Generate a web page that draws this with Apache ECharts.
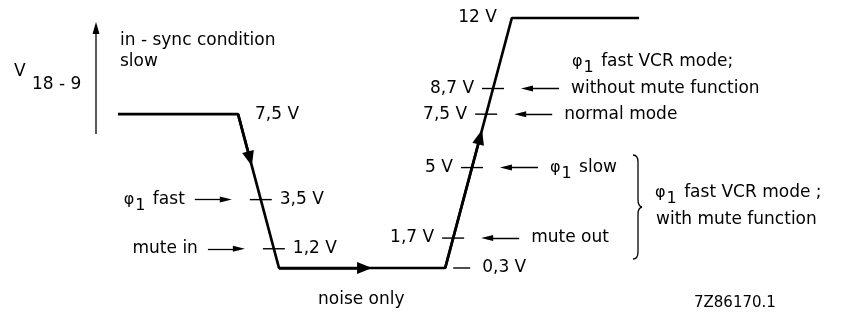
<!DOCTYPE html>
<html>
<head>
<meta charset="utf-8">
<script src="https://cdn.jsdelivr.net/npm/echarts@6/dist/echarts.min.js"></script>
<style>
  html, body { margin: 0; padding: 0; background: #fff; }
  #chart { width: 843px; height: 323px; }
</style>
</head>
<body>
<div id="chart"></div>
<script>
// V18-9 against time (arbitrary units): corners of the curve
const pathT = [2.94, 5.93, 6.95, 11.09, 12.75, 15.92];
const pathV = [7.5, 7.5, 0.3, 0.3, 12, 12];
// levels marked on the falling edge and on the rising edge
const fallTicks = [3.5, 1.2];
const fallNotes = ['{p|φ}{s|1} fast', 'mute in'];
const riseTicks = [8.7, 7.5, 5, 1.7];
const riseNotes = ['without mute function', 'normal mode', '{p|φ}{s|1} slow', 'mute out'];

const FONT = 'DejaVu Sans';
const INK = '#000';
const PX = 843 / 21; // pixels per time unit (grid spans the whole width)

// time on segment i where the curve crosses level v
function tAt(i, v) {
  return pathT[i] + (v - pathV[i]) / (pathV[i + 1] - pathV[i]) * (pathT[i + 1] - pathT[i]);
}
function pointAt(i, f) {
  return [pathT[i] + f * (pathT[i + 1] - pathT[i]), pathV[i] + f * (pathV[i + 1] - pathV[i])];
}
const fmtV = v => String(v).replace('.', ',') + ' V';

const rich = {
  p: { fontSize: 16, fontFamily: FONT, color: INK },
  s: { fontSize: 16, fontFamily: FONT, color: INK, padding: [12, 2, 0, 1] }
};

// tick marks with their values
const tickData = [];
fallTicks.forEach(v => tickData.push({ name: fmtV(v), value: [tAt(1, v), v], label: { position: 'right' } }));
riseTicks.forEach(v => tickData.push({ name: fmtV(v), value: [tAt(3, v), v], label: { position: 'left' } }));

// small pointer arrows and their notes
const noteArrows = [];
const noteData = [];
fallTicks.forEach((v, i) => {
  const t = tAt(1, v);
  noteArrows.push({ coords: [[t - 66 / PX, v], [t - 35 / PX, v]] });
  noteData.push({ name: fallNotes[i], value: [t - 66 / PX, v], label: { position: 'left', distance: 10 } });
});
riseTicks.forEach((v, i) => {
  const t = tAt(3, v);
  noteArrows.push({ coords: [[t + 66 / PX, v], [t + 34 / PX, v]] });
  noteData.push({ name: riseNotes[i], value: [t + 66 / PX, v], label: { position: 'right', distance: 12 } });
});

// direction arrows on the curve
const flowArrows = [[1, 0.29], [2, 0.515], [3, 0.524]].map(([i, f]) => ({
  coords: [[pathT[i], pathV[i]], pointAt(i, f)]
}));

const chart = echarts.init(document.getElementById('chart'), null, { renderer: 'canvas' });

const thin = { stroke: INK, lineWidth: 1.3, fill: null };
const txt = '17px "DejaVu Sans"';

chart.setOption({
  animation: false,
  backgroundColor: '#fff',
  grid: { left: 0, right: 0, top: 18, height: 256.4, containLabel: false },
  xAxis: { type: 'value', min: 0, max: 21, show: false },
  yAxis: { type: 'value', min: 0, max: 12, show: false },
  textStyle: { fontFamily: FONT },
  series: [
    {
      type: 'line',
      data: pathT.map((t, i) => [t, pathV[i]]),
      showSymbol: false,
      clip: false,
      lineStyle: { color: INK, width: 2.7 },
      emphasis: { disabled: true }
    },
    {
      // '7,5 V' next to the first corner, '12 V' before the top corner, 0,3 V mark
      type: 'scatter',
      symbolSize: 0,
      clip: false,
      silent: true,
      data: [
        { name: fmtV(pathV[1]), value: [pathT[1], pathV[1]], label: { position: 'right', distance: 17 } },
        { name: fmtV(pathV[4]), value: [pathT[4], pathV[4]], label: { position: 'left', distance: 15 } },
        { name: fmtV(pathV[3]), value: [pathT[3] + 16.5 / PX, pathV[3]], symbol: 'rect', symbolSize: [17, 1.4],
          label: { position: 'right', distance: 12 } }
      ],
      itemStyle: { color: INK, opacity: 1 },
      label: { show: true, formatter: '{b}', fontSize: 17, color: INK, fontFamily: FONT }
    },
    {
      type: 'scatter',
      symbol: 'rect',
      symbolSize: [22, 1.4],
      clip: false,
      silent: true,
      itemStyle: { color: INK, opacity: 1 },
      data: tickData,
      label: { show: true, formatter: '{b}', distance: 8, fontSize: 17, color: INK, fontFamily: FONT }
    },
    {
      type: 'scatter',
      symbolSize: 0,
      clip: false,
      silent: true,
      itemStyle: { color: INK, opacity: 1 },
      data: noteData,
      label: { show: true, formatter: '{b}', fontSize: 17, color: INK, fontFamily: FONT, rich: rich }
    },
    {
      type: 'lines',
      coordinateSystem: 'cartesian2d',
      clip: false,
      silent: true,
      symbol: ['none', 'triangle'],
      symbolSize: [0, [6, 12]],
      lineStyle: { color: INK, width: 1.3, opacity: 1 },
      data: noteArrows
    },
    {
      type: 'lines',
      coordinateSystem: 'cartesian2d',
      clip: false,
      silent: true,
      symbol: ['none', 'triangle'],
      symbolSize: [0, [12, 15]],
      lineStyle: { color: INK, width: 2.7, opacity: 1 },
      data: flowArrows
    }
  ],
  graphic: [
    { type: 'line', shape: { x1: 96, y1: 134, x2: 96, y2: 32 }, style: { stroke: INK, lineWidth: 1.3 } },
    { type: 'polygon', shape: { points: [[96, 22], [92.5, 34], [99.5, 34]] }, style: { fill: INK } },
    { type: 'text', x: 14, y: 72, style: { text: 'V', font: txt, fill: INK, verticalAlign: 'middle' } },
    { type: 'text', x: 32, y: 85, style: { text: '18 - 9', font: txt, fill: INK, verticalAlign: 'middle' } },
    { type: 'text', x: 120, y: 41, style: { text: 'in - sync condition', font: txt, fill: INK, verticalAlign: 'middle' } },
    { type: 'text', x: 120, y: 62, style: { text: 'slow', font: txt, fill: INK, verticalAlign: 'middle' } },
    { type: 'text', x: 318, y: 300, style: { text: 'noise only', font: txt, fill: INK, verticalAlign: 'middle' } },
    { type: 'text', x: 694, y: 303, style: { text: '7Z86170.1', font: '15px "DejaVu Sans"', fill: INK, verticalAlign: 'middle' } },
    { type: 'text', x: 572, y: 62, style: { text: '{p|φ}{s|1} fast VCR mode;', font: txt, fill: INK, verticalAlign: 'middle', rich: rich } },
    { type: 'text', x: 655, y: 193, style: { text: '{p|φ}{s|1} fast VCR mode ;', font: txt, fill: INK, verticalAlign: 'middle', rich: rich } },
    { type: 'text', x: 656, y: 220, style: { text: 'with mute function', font: txt, fill: INK, verticalAlign: 'middle' } },
    // brace
    { type: 'bezierCurve', shape: { x1: 633, y1: 155, cpx1: 638, cpy1: 155, x2: 638, y2: 162 }, style: thin },
    { type: 'line', shape: { x1: 638, y1: 162, x2: 638, y2: 200 }, style: thin },
    { type: 'bezierCurve', shape: { x1: 638, y1: 200, cpx1: 638, cpy1: 206, x2: 642, y2: 207 }, style: thin },
    { type: 'bezierCurve', shape: { x1: 642, y1: 207, cpx1: 638, cpy1: 208, x2: 638, y2: 214 }, style: thin },
    { type: 'line', shape: { x1: 638, y1: 214, x2: 638, y2: 252 }, style: thin },
    { type: 'bezierCurve', shape: { x1: 638, y1: 252, cpx1: 638, cpy1: 259, x2: 633, y2: 259 }, style: thin }
  ]
});
</script>
</body>
</html>
